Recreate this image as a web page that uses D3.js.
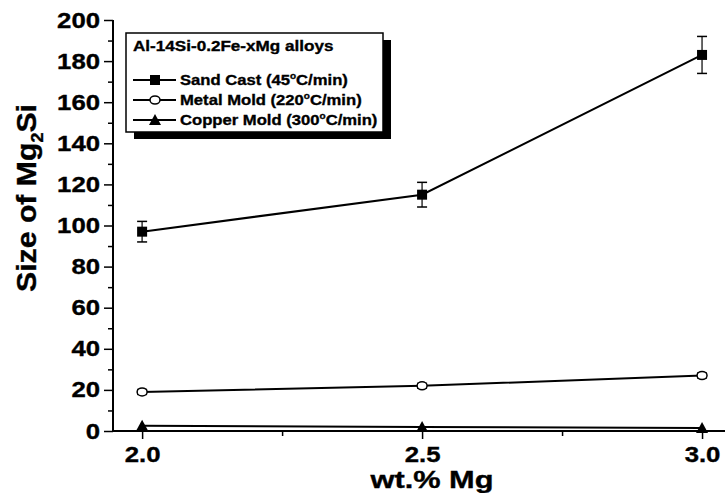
<!DOCTYPE html>
<html><head><meta charset="utf-8">
<script src="https://cdn.jsdelivr.net/npm/d3@7"></script>
<style>body{margin:0;background:#fff}svg{display:block}text{font-family:"Liberation Sans",Arial,sans-serif;font-weight:bold;fill:#000;stroke:#000;stroke-width:0.35px}</style>
</head><body>
<script>
const xValues = [2.0, 2.5, 3.0];
const sandCast = [97, 115, 183];
const sandErr = [5, 6, 9];
const metalMold = [19, 22, 27];
const metalErr = [1.2, 1.2, 1.2];
const copperMold = [2.5, 2.0, 1.5];
const copperErr = [0, 0, 0];
const yTicks = [0, 20, 40, 60, 80, 100, 120, 140, 160, 180, 200];
const xTicks = [2.0, 2.5, 3.0];
const seriesNames = ["Sand Cast (45", "Metal Mold (220", "Copper Mold (300"];
const legendTitle = "Al-14Si-0.2Fe-xMg alloys";

const W = 725, H = 493;
const SX = 1.17;
const svg = d3.select("body").append("svg").attr("width", W).attr("height", H);
const x = d3.scaleLinear().domain([1.948, 3.041]).range([113, 725]);
const y = d3.scaleLinear().domain([0, 200]).range([431, 20]);

// y axis
const yAxis = d3.axisLeft(y).tickValues(yTicks).tickFormat(d3.format("d")).tickSize(9).tickPadding(5);
const gy = svg.append("g").attr("transform", `translate(${x.range()[0]},0)`).call(yAxis);
gy.select(".domain").attr("stroke-width", 2).attr("d", `M0,${y(200)}V${y(0)}`);
gy.selectAll(".tick line").attr("stroke-width", 1.5);
gy.selectAll(".tick text").style("font-size", "22px").attr("x", -13 / SX).attr("transform", `scale(${SX},1)`);
const gym = svg.append("g").attr("transform", `translate(${x.range()[0]},0)`)
  .call(d3.axisLeft(y).tickValues(d3.range(10, 200, 20)).tickFormat("").tickSize(5));
gym.select(".domain").remove();
gym.selectAll(".tick line").attr("stroke-width", 1.5);

// x axis
const xAxis = d3.axisBottom(x).tickValues(xTicks).tickFormat(d3.format(".1f")).tickSize(8).tickPadding(5);
const gx = svg.append("g").attr("transform", `translate(0,${y(0)})`).call(xAxis);
gx.select(".domain").attr("stroke-width", 2).attr("d", `M${x.range()[0]},0H${x.range()[1]}`);
gx.selectAll(".tick line").attr("stroke-width", 1.5);
gx.selectAll(".tick text").style("font-size", "22px").attr("y", 31).attr("dy", 0).attr("transform", `scale(${SX},1)`);
const gxm = svg.append("g").attr("transform", `translate(0,${y(0)})`)
  .call(d3.axisBottom(x).tickValues([2.25, 2.75]).tickFormat("").tickSize(5));
gxm.select(".domain").remove();
gxm.selectAll(".tick line").attr("stroke-width", 1.5);

// axis titles
svg.append("text").attr("x", 432).attr("y", 488).attr("text-anchor", "middle")
  .style("font-size", "24px").attr("textLength", 123).attr("lengthAdjust", "spacingAndGlyphs").text("wt.% Mg");
const yt = svg.append("text").attr("transform", `translate(36,198) rotate(-90) scale(1.12,1)`)
  .attr("text-anchor", "middle").style("font-size", "27px");
yt.append("tspan").text("Size of Mg");
yt.append("tspan").attr("dy", 7).style("font-size", "16px").text("2");
yt.append("tspan").attr("dy", -7).text("Si");

// series
const line = d3.line().x((d, i) => x(xValues[i])).y(d => y(d));
const series = [
  {v: sandCast, e: sandErr, sym: "square"},
  {v: metalMold, e: metalErr, sym: "circle"},
  {v: copperMold, e: copperErr, sym: "triangle"}
];
function drawSym(g, sym, cx, cy) {
  if (sym === "square") g.append("rect").attr("x", cx - 5).attr("y", cy - 5).attr("width", 10).attr("height", 10).attr("fill", "#000");
  else if (sym === "circle") g.append("ellipse").attr("cx", cx).attr("cy", cy).attr("rx", 5).attr("ry", 4).attr("fill", "#fff").attr("stroke", "#000").attr("stroke-width", 1.5);
  else g.append("path").attr("d", `M${cx},${cy - 6}L${cx + 6},${cy + 5}L${cx - 6},${cy + 5}Z`).attr("fill", "#000");
}
series.forEach(s => {
  svg.append("path").attr("d", line(s.v)).attr("fill", "none").attr("stroke", "#000").attr("stroke-width", 2);
  const g = svg.append("g");
  s.v.forEach((v, i) => {
    const cx = x(xValues[i]);
    if (s.e[i] > 0) {
      const y1 = y(v + s.e[i]), y2 = y(v - s.e[i]);
      g.append("line").attr("x1", cx).attr("x2", cx).attr("y1", y1).attr("y2", y2).attr("stroke", "#333").attr("stroke-width", 1.5);
      [y1, y2].forEach(yy => g.append("line").attr("x1", cx - 5).attr("x2", cx + 5).attr("y1", yy).attr("y2", yy).attr("stroke", "#000").attr("stroke-width", 1.5));
    }
    drawSym(g, s.sym, cx, y(v));
  });
});

// legend
const lg = svg.append("g");
lg.append("rect").attr("x", 134).attr("y", 40).attr("width", 257).attr("height", 99).attr("fill", "#000");
lg.append("rect").attr("x", 126).attr("y", 33).attr("width", 257).attr("height", 99).attr("fill", "#fff").attr("stroke", "#000").attr("stroke-width", 1.5);
lg.append("text").attr("transform", "translate(133,51) scale(1.14,1)").style("font-size", "15px").text(legendTitle);
const rowsY = [80, 100, 120];
series.forEach((s, i) => {
  const cy = rowsY[i];
  lg.append("line").attr("x1", 133).attr("x2", 176).attr("y1", cy).attr("y2", cy).attr("stroke", "#000").attr("stroke-width", 2);
  drawSym(lg, s.sym, 155, cy);
  const t = lg.append("text").attr("transform", `translate(180,${cy + 5}) scale(1.11,1)`).style("font-size", "15px");
  t.append("tspan").text(seriesNames[i]);
  t.append("tspan").attr("dy", -6).style("font-size", "9px").text("o");
  t.append("tspan").attr("dy", 6).text("C/min)");
});
</script>
</body></html>
